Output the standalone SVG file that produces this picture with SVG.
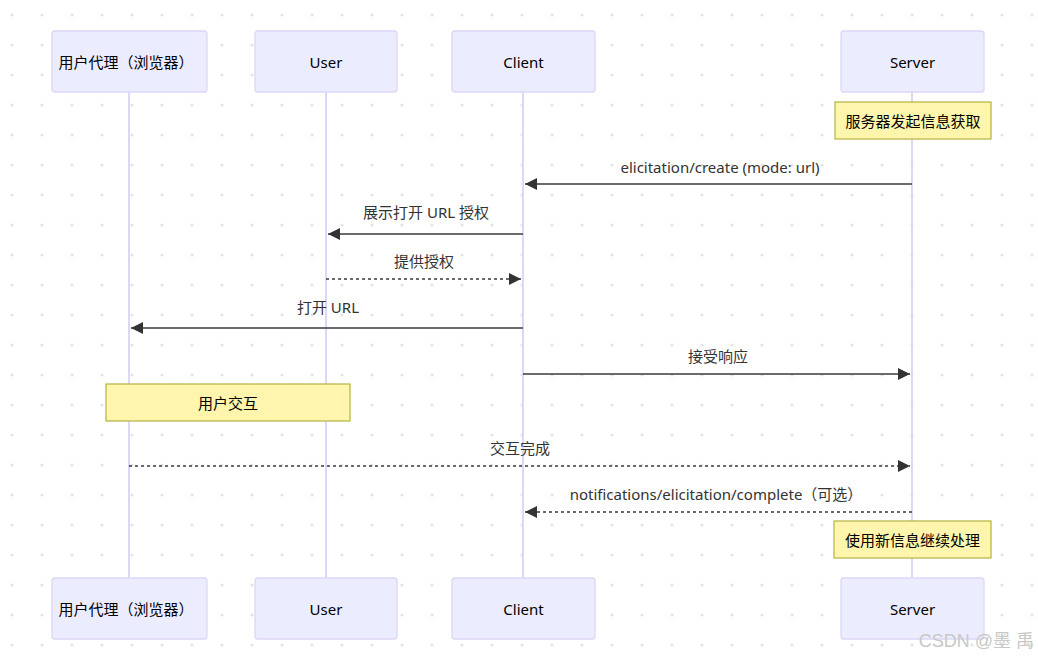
<svg xmlns="http://www.w3.org/2000/svg" width="1038" height="658" viewBox="0 0 1038 658">
<style>
text{font-family:"Noto Sans","Noto Sans CJK SC",sans-serif;font-size:15px;fill:#333;}
.actor{fill:#ececff;stroke:#ddd6f7;stroke-width:1.3;}
.actor-t{fill:#000;text-anchor:middle;dominant-baseline:central;}
.life{stroke:#ddd6f7;stroke-width:2;}
.note{fill:#fff5ad;stroke:#b5b340;stroke-width:1.2;}
.note-t{fill:#000;text-anchor:middle;dominant-baseline:central;}
.msg{stroke:#3a3a3a;stroke-width:1.7;fill:none;}
.dash{stroke-dasharray:3,3;}
.lbl{text-anchor:middle;fill:#333;}
</style>
<defs>
<pattern id="dots" x="0" y="0" width="30" height="30" patternUnits="userSpaceOnUse">
<circle cx="12" cy="15" r="1.6" fill="#e4e4e4"/>
</pattern>
<marker id="ah" viewBox="0 0 10 10" refX="10" refY="5" markerWidth="12" markerHeight="12" markerUnits="userSpaceOnUse" orient="auto">
<path d="M0,0 L10,5 L0,10 z" fill="#333"/>
</marker>
</defs>
<rect width="1038" height="658" fill="#fff"/>
<rect width="1038" height="658" fill="url(#dots)"/>

<g id="lifelines">
<line class="life" x1="129" y1="92" x2="129" y2="578"/>
<line class="life" x1="326" y1="92" x2="326" y2="578"/>
<line class="life" x1="523" y1="92" x2="523" y2="578"/>
<line class="life" x1="912" y1="92" x2="912" y2="578"/>
</g>

<g id="actor-agent">
<rect class="actor" x="52" y="31" width="155" height="61" rx="3"/>
<text class="actor-t" x="126" y="62">用户代理（浏览器）</text>
<rect class="actor" x="52" y="578" width="155" height="61" rx="3"/>
<text class="actor-t" x="126" y="609">用户代理（浏览器）</text>
</g>
<g id="actor-user">
<rect class="actor" x="255" y="31" width="142" height="61" rx="3"/>
<text class="actor-t" x="326" y="62">User</text>
<rect class="actor" x="255" y="578" width="142" height="61" rx="3"/>
<text class="actor-t" x="326" y="609">User</text>
</g>
<g id="actor-client">
<rect class="actor" x="452" y="31" width="143" height="61" rx="3"/>
<text class="actor-t" x="523.5" y="62">Client</text>
<rect class="actor" x="452" y="578" width="143" height="61" rx="3"/>
<text class="actor-t" x="523.5" y="609">Client</text>
</g>
<g id="actor-server">
<rect class="actor" x="841" y="31" width="143" height="61" rx="3"/>
<text class="actor-t" x="912.5" y="62">Server</text>
<rect class="actor" x="841" y="578" width="143" height="61" rx="3"/>
<text class="actor-t" x="912.5" y="609">Server</text>
</g>

<g id="note-start">
<rect class="note" x="835" y="102" width="156" height="37"/>
<text class="note-t" x="913" y="120.5">服务器发起信息获取</text>
</g>
<g id="note-interact">
<rect class="note" x="106" y="384" width="244" height="37"/>
<text class="note-t" x="228" y="402.5">用户交互</text>
</g>
<g id="note-continue">
<rect class="note" x="834" y="521" width="157" height="37"/>
<text class="note-t" x="912.5" y="539.5">使用新信息继续处理</text>
</g>

<g id="connectors">
<line class="msg" x1="912" y1="184" x2="525" y2="184" marker-end="url(#ah)"/>
<line class="msg" x1="523" y1="234" x2="328" y2="234" marker-end="url(#ah)"/>
<line class="msg dash" x1="326" y1="279" x2="521" y2="279" marker-end="url(#ah)"/>
<line class="msg" x1="523" y1="328" x2="131" y2="328" marker-end="url(#ah)"/>
<line class="msg" x1="523" y1="374" x2="910" y2="374" marker-end="url(#ah)"/>
<line class="msg dash" x1="129" y1="466" x2="910" y2="466" marker-end="url(#ah)"/>
<line class="msg dash" x1="912" y1="512" x2="525" y2="512" marker-end="url(#ah)"/>
<text class="lbl" x="720" y="173">elicitation/create (mode: url)</text>
<text class="lbl" x="426" y="218">展示打开 URL 授权</text>
<text class="lbl" x="424" y="267">提供授权</text>
<text class="lbl" x="328" y="313">打开 URL</text>
<text class="lbl" x="718" y="362">接受响应</text>
<text class="lbl" x="520" y="454">交互完成</text>
<text class="lbl" x="716" y="500">notifications/elicitation/complete（可选）</text>
</g>

<text x="1034" y="647" style="font-size:18px;fill:#c8c8c8;text-anchor:end;font-family:'Liberation Sans','Noto Sans CJK SC',sans-serif">CSDN @墨 禹</text>
</svg>
